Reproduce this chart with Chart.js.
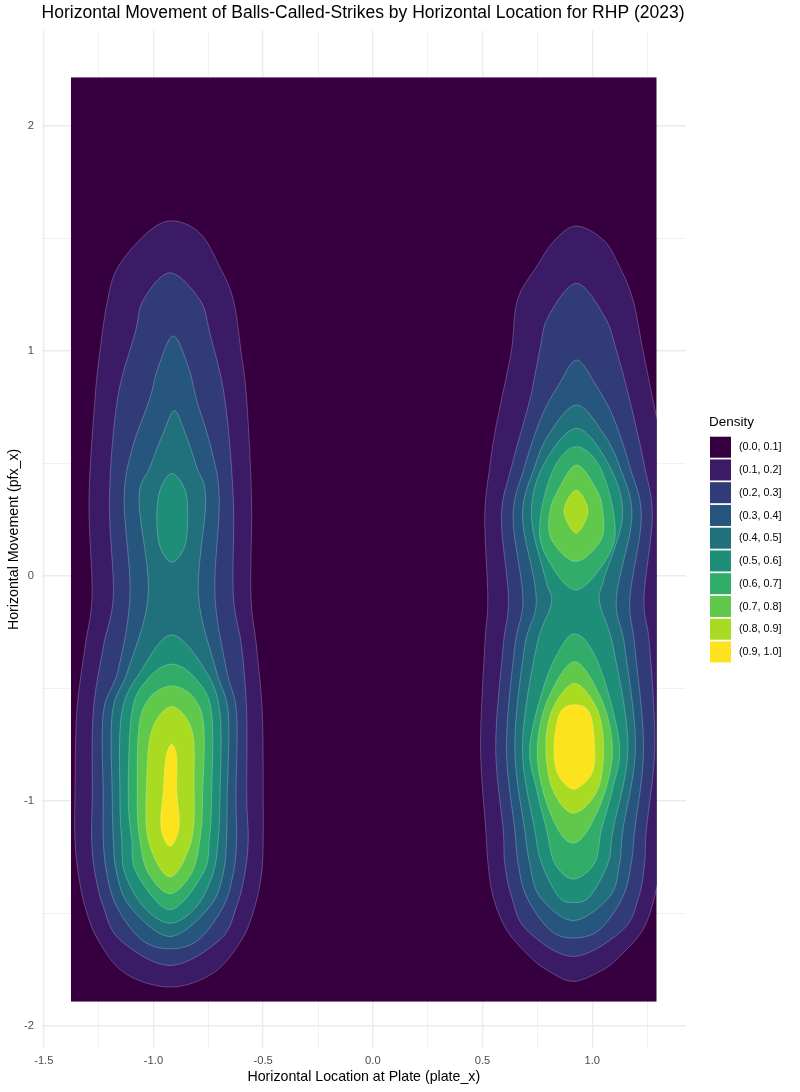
<!DOCTYPE html>
<html>
<head>
<meta charset="utf-8">
<script src="https://cdn.jsdelivr.net/npm/chart.js@4.4.1/dist/chart.umd.min.js"></script>
<style>
  html, body { margin: 0; padding: 0; background: #fff; }
  #wrap { width: 800px; height: 1092px; }
</style>
</head>
<body>
<div id="wrap"><canvas id="density"></canvas></div>
<script>
// density bins (legend) and band colours
const densityBins = ['(0.0, 0.1]', '(0.1, 0.2]', '(0.2, 0.3]', '(0.3, 0.4]', '(0.4, 0.5]',
                     '(0.5, 0.6]', '(0.6, 0.7]', '(0.7, 0.8]', '(0.8, 0.9]', '(0.9, 1.0]'];
const bandColors = ['#360040', '#3B1A66', '#313B78', '#26567D', '#21717C',
                    '#1F8E78', '#31AC69', '#60C94B', '#A9DB22', '#FCE31E'];

// axis ticks
const xMajor = [-1.5, -1, -0.5, 0, 0.5, 1];
const xLabels = ['-1.5', '-1.0', '-0.5', '0.0', '0.5', '1.0'];
const xMinor = [-1.25, -0.75, -0.25, 0.25, 0.75, 1.25];
const yMajor = [-2, -1, 0, 1, 2];
const yLabels = ['-2', '-1', '0', '1', '2'];
const yMinor = [-1.5, -0.5, 0.5, 1.5];

// extent of the density grid (plate_x, pfx_x)
const xRange = [-1.376, 1.294];
const yRange = [-1.893, 2.218];

// contour outlines: rows of [pfx_x, left plate_x, right plate_x]
const left01 = [[1.579, -0.917, -0.917], [1.524, -1.031, -0.788], [1.373, -1.162, -0.697], [1.227, -1.209, -0.636],
  [1.000, -1.244, -0.601], [0.782, -1.267, -0.575], [0.338, -1.294, -0.553], [-0.084, -1.280, -0.556],
  [-0.316, -1.312, -0.530], [-0.609, -1.350, -0.504], [-0.982, -1.358, -0.500], [-1.173, -1.358, -0.500],
  [-1.321, -1.343, -0.507], [-1.470, -1.312, -0.538], [-1.618, -1.253, -0.598], [-1.766, -1.131, -0.728],
  [-1.828, -0.925, -0.925]];
const left02 = [[1.348, -0.925, -0.925], [1.227, -1.046, -0.788], [1.080, -1.084, -0.743], [0.782, -1.165, -0.674],
  [0.338, -1.201, -0.636], [-0.084, -1.183, -0.636], [-0.316, -1.229, -0.598], [-0.609, -1.275, -0.575],
  [-0.982, -1.279, -0.575], [-1.173, -1.282, -0.568], [-1.321, -1.267, -0.583], [-1.470, -1.229, -0.621],
  [-1.618, -1.153, -0.697], [-1.732, -0.925, -0.925]];
const left03 = [[1.067, -0.910, -0.910], [0.929, -0.978, -0.841], [0.782, -1.019, -0.803], [0.560, -1.099, -0.735],
  [0.338, -1.134, -0.700], [-0.084, -1.107, -0.720], [-0.418, -1.161, -0.667], [-0.609, -1.229, -0.621],
  [-0.982, -1.229, -0.624], [-1.173, -1.229, -0.621], [-1.321, -1.213, -0.636], [-1.470, -1.168, -0.682],
  [-1.618, -1.054, -0.795], [-1.658, -0.925, -0.925]];
const left04 = [[0.735, -0.905, -0.905], [0.636, -0.955, -0.856], [0.484, -1.016, -0.803], [0.338, -1.066, -0.762],
  [-0.084, -1.024, -0.795], [-0.418, -1.116, -0.715], [-0.609, -1.188, -0.659], [-0.982, -1.188, -0.664],
  [-1.173, -1.183, -0.667], [-1.321, -1.168, -0.682], [-1.470, -1.107, -0.743], [-1.603, -0.925, -0.925]];
const left05a = [[0.456, -0.916, -0.916], [0.382, -0.970, -0.856], [0.258, -0.985, -0.844], [0.130, -0.970, -0.858],
  [0.061, -0.916, -0.916]];
const left05b = [[-0.262, -0.917, -0.917], [-0.418, -1.054, -0.765], [-0.609, -1.145, -0.697], [-0.982, -1.153, -0.697],
  [-1.173, -1.145, -0.705], [-1.321, -1.131, -0.728], [-1.470, -1.046, -0.803], [-1.544, -0.925, -0.925]];
const left06 = [[-0.392, -0.917, -0.917], [-0.462, -1.030, -0.803], [-0.609, -1.099, -0.735], [-0.982, -1.115, -0.735],
  [-1.173, -1.099, -0.745], [-1.321, -1.077, -0.773], [-1.484, -0.925, -0.925]];
const left07 = [[-0.489, -0.917, -0.917], [-0.609, -1.054, -0.780], [-0.982, -1.074, -0.776], [-1.173, -1.062, -0.788],
  [-1.321, -1.024, -0.826], [-1.413, -0.925, -0.925]];
const left08 = [[-0.581, -0.917, -0.917], [-0.684, -1.007, -0.825], [-0.907, -1.031, -0.815], [-1.173, -1.024, -0.826],
  [-1.339, -0.925, -0.925]];
const left09 = [[-0.748, -0.917, -0.917], [-0.804, -0.943, -0.894], [-0.951, -0.955, -0.894], [-1.116, -0.966, -0.883],
  [-1.203, -0.925, -0.925]];

const right01 = [[1.556, 0.928, 0.928], [1.493, 0.829, 1.052], [1.375, 0.746, 1.125], [1.227, 0.659, 1.186],
  [1.004, 0.632, 1.231], [0.782, 0.586, 1.277], [0.636, 0.556, 1.308], [0.486, 0.533, 1.330], [0.264, 0.510, 1.353],
  [-0.100, 0.524, 1.340], [-0.314, 0.510, 1.353], [-0.759, 0.491, 1.362],
  [-1.129, 0.515, 1.330], [-1.277, 0.525, 1.310], [-1.425, 0.548, 1.285], [-1.573, 0.609, 1.231],
  [-1.692, 0.715, 1.125], [-1.751, 0.792, 1.049], [-1.803, 0.913, 0.913]];
const right02 = [[1.301, 0.928, 0.928], [1.152, 0.799, 1.057], [1.004, 0.761, 1.110], [0.782, 0.715, 1.171],
  [0.486, 0.632, 1.239], [0.264, 0.586, 1.274], [-0.100, 0.618, 1.236],
  [-0.314, 0.594, 1.262], [-0.759, 0.560, 1.285], [-1.129, 0.594, 1.247], [-1.277, 0.601, 1.239],
  [-1.425, 0.632, 1.213], [-1.573, 0.700, 1.140], [-1.692, 0.913, 0.913]];
const right03 = [[0.960, 0.929, 0.929], [0.858, 0.852, 1.011], [0.708, 0.769, 1.095], [0.486, 0.692, 1.171],
  [0.264, 0.639, 1.224], [-0.100, 0.684, 1.172], [-0.314, 0.647, 1.194],
  [-0.759, 0.609, 1.234], [-1.129, 0.647, 1.194], [-1.277, 0.662, 1.178], [-1.425, 0.700, 1.140],
  [-1.573, 0.806, 1.034], [-1.610, 0.913, 0.913]];
const right04 = [[0.760, 0.929, 0.929], [0.636, 0.806, 1.049], [0.486, 0.738, 1.125], [0.264, 0.682, 1.181],
  [-0.100, 0.745, 1.110], [-0.314, 0.692, 1.148], [-0.759, 0.647, 1.197],
  [-1.129, 0.692, 1.140], [-1.277, 0.715, 1.125], [-1.425, 0.761, 1.080], [-1.532, 0.913, 0.913]];
const right05 = [[0.656, 0.929, 0.929], [0.486, 0.774, 1.080], [0.264, 0.723, 1.138], [-0.018, 0.788, 1.052],
  [-0.120, 0.814, 1.034], [-0.314, 0.746, 1.095], [-0.759, 0.682, 1.163], [-1.129, 0.738, 1.095],
  [-1.277, 0.769, 1.072], [-1.425, 0.845, 0.989], [-1.452, 0.913, 0.913]];
const right06a = [[0.575, 0.929, 0.929], [0.486, 0.829, 1.034], [0.264, 0.764, 1.100], [0.102, 0.783, 1.080],
  [-0.062, 0.925, 0.925]];
const right06b = [[-0.258, 0.920, 0.920], [-0.314, 0.860, 0.989], [-0.480, 0.783, 1.061], [-0.759, 0.715, 1.125],
  [-0.951, 0.747, 1.092], [-1.129, 0.792, 1.042], [-1.277, 0.829, 1.011], [-1.348, 0.913, 0.913]];
const right07a = [[0.493, 0.929, 0.929], [0.382, 0.845, 1.021], [0.280, 0.806, 1.049], [0.160, 0.815, 1.040],
  [0.064, 0.925, 0.925]];
const right07b = [[-0.381, 0.920, 0.920], [-0.551, 0.797, 1.043], [-0.759, 0.750, 1.092], [-0.951, 0.774, 1.061],
  [-1.129, 0.845, 0.981], [-1.188, 0.913, 0.913]];
const right08a = [[0.382, 0.927, 0.927], [0.289, 0.871, 0.981], [0.190, 0.927, 0.927]];
const right08b = [[-0.477, 0.920, 0.920], [-0.590, 0.820, 1.021], [-0.759, 0.788, 1.052], [-0.951, 0.820, 1.025],
  [-1.055, 0.915, 0.915]];
const right09 = [[-0.573, 0.920, 0.920], [-0.610, 0.852, 0.989], [-0.759, 0.826, 1.011], [-0.880, 0.843, 0.998],
  [-0.948, 0.915, 0.915]];

// [band index, outline]
const pieces = [
  [1, left01], [1, right01], [2, left02], [2, right02], [3, left03], [3, right03],
  [4, left04], [4, right04], [5, left05a], [5, left05b], [5, right05],
  [6, left06], [6, right06a], [6, right06b], [7, left07], [7, right07a], [7, right07b],
  [8, left08], [8, right08a], [8, right08b], [9, left09], [9, right09]
];

// closed outline: down the left edge, back up the right edge
function ring(rows) {
  const pts = rows.map(r => ({x: r[1], y: r[0]}));
  for (let i = rows.length - 2; i > 0; i--) pts.push({x: rows[i][2], y: rows[i][0]});
  return pts;
}

const datasets = [{
  data: [{x: xRange[0], y: yRange[1]}, {x: xRange[1], y: yRange[1]},
         {x: xRange[1], y: yRange[0]}, {x: xRange[0], y: yRange[0]}],
  backgroundColor: bandColors[0],
  smooth: false
}];
pieces.forEach(([band, rows]) => {
  datasets.push({data: ring(rows), backgroundColor: bandColors[band], smooth: true});
});

// fills each dataset's outline as a smooth closed shape (positions from the chart scales)
const contourFill = {
  id: 'contourFill',
  beforeDatasetsDraw(chart) {
    const {ctx, scales: {x, y}} = chart;
    const l = x.getPixelForValue(xRange[0]), r = x.getPixelForValue(xRange[1]);
    const t = y.getPixelForValue(yRange[1]), b = y.getPixelForValue(yRange[0]);
    ctx.save();
    ctx.beginPath();
    ctx.rect(l, t, r - l, b - t);
    ctx.clip();
    chart.data.datasets.forEach((ds, i) => {
      const pts = chart.getDatasetMeta(i).data.map(p => ({x: p.x, y: p.y}));
      const n = pts.length;
      ctx.beginPath();
      ctx.moveTo(pts[0].x, pts[0].y);
      for (let k = 0; k < n; k++) {
        const p0 = pts[(k - 1 + n) % n], p1 = pts[k], p2 = pts[(k + 1) % n], p3 = pts[(k + 2) % n];
        if (ds.smooth) {
          ctx.bezierCurveTo(p1.x + (p2.x - p0.x) / 6, p1.y + (p2.y - p0.y) / 6,
                            p2.x - (p3.x - p1.x) / 6, p2.y - (p3.y - p1.y) / 6, p2.x, p2.y);
        } else {
          ctx.lineTo(p2.x, p2.y);
        }
      }
      ctx.closePath();
      ctx.fillStyle = ds.backgroundColor;
      ctx.fill();
      if (ds.smooth) {
        ctx.strokeStyle = 'rgba(255,255,255,0.4)';
        ctx.lineWidth = 0.6;
        ctx.stroke();
      }
    });
    ctx.restore();
  }
};

// ggplot-style legend on the right
const densityLegend = {
  id: 'densityLegend',
  afterDraw(chart) {
    const {ctx} = chart;
    ctx.save();
    ctx.fillStyle = '#000';
    ctx.textBaseline = 'middle';
    ctx.textAlign = 'left';
    ctx.font = '13.5px "Liberation Sans", Arial, sans-serif';
    ctx.fillText('Density', 709, 422);
    ctx.font = '10.8px "Liberation Sans", Arial, sans-serif';
    densityBins.forEach((label, i) => {
      const top = 436.7 + i * 22.75;
      ctx.fillStyle = bandColors[i];
      ctx.fillRect(710, top, 21, 21);
      ctx.fillStyle = '#000';
      ctx.fillText(label, 739, top + 10.8);
    });
    ctx.restore();
  }
};

Chart.defaults.font.family = '"Liberation Sans", Arial, Helvetica, sans-serif';

const isMajor = (list, v) => list.some(m => Math.abs(m - v) < 1e-6);

new Chart(document.getElementById('density'), {
  type: 'scatter',
  data: {datasets: datasets},
  options: {
    responsive: true,
    maintainAspectRatio: false,
    animation: false,
    events: [],
    elements: {point: {radius: 0, hoverRadius: 0}},
    layout: {padding: {left: 0, right: 114, top: 0, bottom: 0}},
    plugins: {
      legend: {display: false},
      tooltip: {enabled: false},
      title: {
        display: true,
        text: 'Horizontal Movement of Balls-Called-Strikes by Horizontal Location for RHP (2023)',
        align: 'start',
        fullSize: false,
        color: '#000',
        font: {size: 17.5, weight: 'normal', lineHeight: 1.2},
        padding: {top: 3, bottom: 6.8}
      }
    },
    scales: {
      x: {
        type: 'linear',
        min: -1.51,
        max: 1.4275,
        afterBuildTicks: s => { s.ticks = xMajor.concat(xMinor).sort((a, b) => a - b).map(v => ({value: v})); },
        afterFit: s => { s.height = 44; },
        ticks: {
          autoSkip: false,
          maxRotation: 0,
          padding: 6,
          color: '#4D4D4D',
          font: {size: 11.2},
          callback: v => { const i = xMajor.findIndex(m => Math.abs(m - v) < 1e-6); return i >= 0 ? xLabels[i] : ''; }
        },
        grid: {
          color: '#EBEBEB',
          lineWidth: c => (c.tick && isMajor(xMajor, c.tick.value)) ? 1.4 : 0.7,
          drawTicks: false
        },
        border: {display: false},
        title: {
          display: true,
          text: 'Horizontal Location at Plate (plate_x)',
          color: '#000',
          font: {size: 14.2},
          padding: {top: 0, bottom: 6.6}
        }
      },
      y: {
        type: 'linear',
        min: -2.099,
        max: 2.424,
        afterBuildTicks: s => { s.ticks = yMajor.concat(yMinor).sort((a, b) => a - b).map(v => ({value: v})); },
        afterFit: s => { s.width = 41.6; },
        ticks: {
          autoSkip: false,
          padding: 7.6,
          color: '#4D4D4D',
          font: {size: 11.2},
          callback: v => { const i = yMajor.findIndex(m => Math.abs(m - v) < 1e-6); return i >= 0 ? yLabels[i] : ''; }
        },
        grid: {
          color: '#EBEBEB',
          lineWidth: c => (c.tick && isMajor(yMajor, c.tick.value)) ? 1.4 : 0.7,
          drawTicks: false
        },
        border: {display: false},
        title: {
          display: true,
          text: 'Horizontal Movement (pfx_x)',
          color: '#000',
          font: {size: 14.2},
          padding: {top: 5.4, bottom: 0}
        }
      }
    }
  },
  plugins: [contourFill, densityLegend]
});
</script>
</body>
</html>
